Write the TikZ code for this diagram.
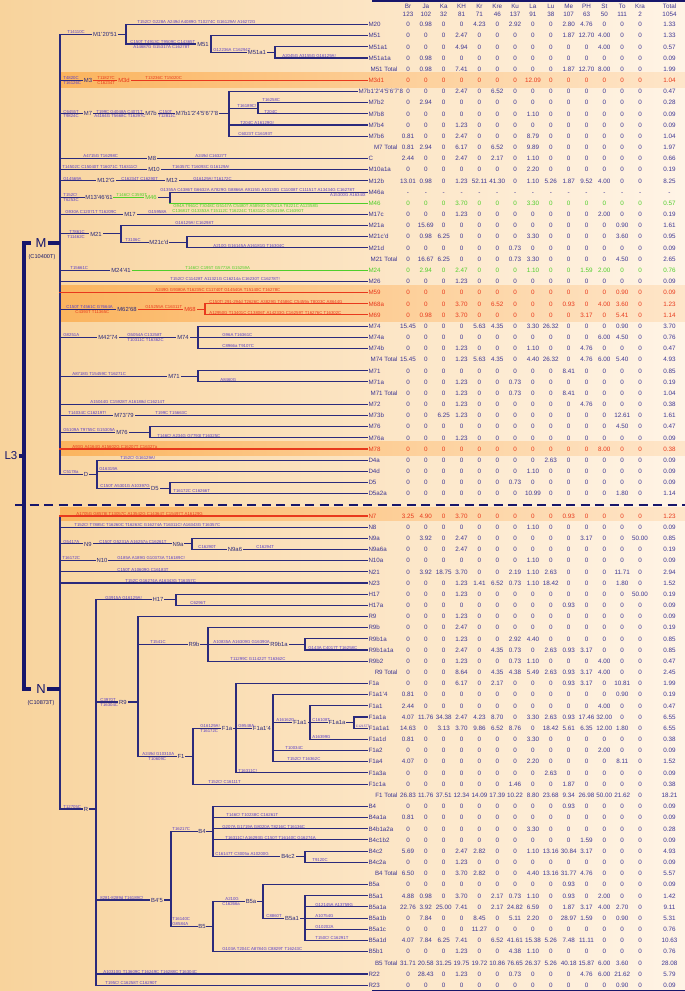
\documentclass[tikz,border=0pt]{standalone}
\usepackage{fontspec}
\setmainfont{Liberation Sans}
\definecolor{nv}{HTML}{2B2A7C}
\definecolor{dk}{HTML}{17166B}
\definecolor{mc}{HTML}{5A3FC8}
\definecolor{tc}{HTML}{3D3694}
\definecolor{rd}{HTML}{E8391D}
\definecolor{gr}{HTML}{4FCF2A}
\definecolor{bgL}{HTML}{F8D39C}
\definecolor{bgM}{HTML}{FDE3BC}
\definecolor{bgR}{HTML}{FFF4E6}
\definecolor{bdL}{HTML}{FBB45E}
\definecolor{bdR}{HTML}{FEE6CA}
\newcommand\R[1]{(24.5+(#1-1)*11.17)}
\newcommand\cx[1]{(408+(#1-1)*17.85+11.6*(#1>14))}
\newcounter{mk}
\tikzset{
 ln/.style={draw=nv,line width=1.1pt,line cap=rect},
 thk/.style={draw=dk,line width=3.2pt},
 mtx/.style={font=\fontsize{4.3}{4.3}\selectfont,inner sep=0.2pt},
 nlab/.style={font=\fontsize{5.9}{6}\selectfont,inner sep=1.2pt,text height=4.2pt,text depth=0pt},
 tlab/.style={font=\fontsize{6.2}{6.5}\selectfont,text=tc,inner sep=1.3pt,text height=4.5pt,text depth=0pt},
 tval/.style={font=\fontsize{6.3}{6.5}\selectfont,text=tc,inner sep=0pt,anchor=center,text height=4.5pt,text depth=0pt},
}
\newcommand\ma[4][mc]{\stepcounter{mk}\node[mtx,text=#1,anchor=south west] (mu\themk) at (#2,{#3-0.3}) {#4};}
\newcommand\mb[4][mc]{\stepcounter{mk}\node[mtx,text=#1,anchor=north west] (mu\themk) at (#2,{#3+0.7}) {#4};}
\newcommand\bl[5][nv]{\node[nlab,text=#1] (#2) at (#3,{#4}) {#5};}
\newcommand\leaf[3][nv]{\draw[ln,draw=#1] (#2,{\R{#3}}) -- (L#3.west);}
\newcommand\trow[5][tc]{%
 \node[tlab,text=#1,anchor=west] (L#2) at (#3,{\R{#2}}) {#4};
 \foreach \v [count=\i] in {#5} {\node[tval,text=#1] (V#2-\i) at ({\cx{\i}},{\R{#2}}) {\v};}}
\newcommand\ttot[3]{%
 \node[tlab,anchor=east] (L#1) at (399,{\R{#1}}) {#2};
 \foreach \v [count=\i] in {#3} {\node[tval] (V#1-\i) at ({\cx{\i}},{\R{#1}}) {\v};}}
\begin{document}
\begin{tikzpicture}[x=1pt,y=-1pt]
\shade[left color=bgL,middle color=bgM,right color=bgR] (0,0) rectangle (685,991);
\useasboundingbox (0,0) rectangle (685,991);
% node heights
\pgfmathsetmacro\yMfa{(\R{3}+\R{4})/2}
\pgfmathsetmacro\yMf{(\R{2}+\yMfa)/2}
\pgfmathsetmacro\yMo{(\R{1}+\yMf)/2}
\pgfmathsetmacro\ySeven{(\R{7}+\R{11})/2}
\pgfmathsetmacro\ySevs{(\R{8}+\R{9})/2}
\pgfmathsetmacro\yFS{(\R{16}+\R{17})/2}
\pgfmathsetmacro\yTwoOneC{(\R{20}+\R{21})/2}
\pgfmathsetmacro\yTwoOne{(\R{19}+\yTwoOneC)/2}
\pgfmathsetmacro\ySixEight{(\R{26}+\R{27})/2}
\pgfmathsetmacro\ySevOne{(\R{32}+\R{33})/2}
\pgfmathsetmacro\ySevSix{(\R{37}+\R{38})/2}
\pgfmathsetmacro\yDfive{(\R{42}+\R{43})/2}
\pgfmathsetmacro\yD{(\R{40}+\yDfive)/2}
\pgfmathsetmacro\yM{243}
\pgfmathsetmacro\yNnine{(\R{47}+\R{48})/2}
\pgfmathsetmacro\yH{(\R{52}+\R{53})/2}
\pgfmathsetmacro\yRnbo{(\R{56}+\R{57})/2}
\pgfmathsetmacro\yRnb{(\R{55}+\R{58})/2}
\pgfmathsetmacro\yFaa{(\R{63}+\R{64})/2}
\pgfmathsetmacro\yFao{(\R{62}+\R{65})/2}
\pgfmathsetmacro\yFaf{(\R{61}+\R{67})/2}
\pgfmathsetmacro\yFa{(\R{60}+\R{68})/2}
\pgfmathsetmacro\yFo{(\yFa+\R{69})/2}
\pgfmathsetmacro\yRn{702}
\pgfmathsetmacro\yBfc{(\R{75}+\R{76})/2}
\pgfmathsetmacro\yBf{(\R{71}+\yBfc)/2}
\pgfmathsetmacro\yBao{(\R{79}+\R{83})/2}
\pgfmathsetmacro\yBa{(\R{78}+\yBao)/2}
\pgfmathsetmacro\yBv{(\yBa+\R{84})/2}
\pgfmathsetmacro\yBfv{900}
\pgfmathsetmacro\yR{809}
\pgfmathsetmacro\yN{689}
\pgfmathsetmacro\yL{456}
% bands
\shade[left color=bdL,right color=bdR] (60,{\R{6}-7.5}) rectangle (685,{\R{6}+7.5});
\shade[left color=bdL,right color=bdR] (60,{\R{25}-7.5}) rectangle (685,{\R{27}+7});
\shade[left color=bdL,right color=bdR] (60,{\R{39}-7.5}) rectangle (685,{\R{39}+6.5});
\shade[left color=bdL,right color=bdR] (60,{\R{45}-8}) rectangle (685,{\R{45}+5});
% table borders and header
\draw[dk,line width=1.4pt] (372,0.8) -- (685,0.8);
\draw[dk,line width=1.4pt] (372,990.2) -- (685,990.2);
\foreach \h [count=\i] in {Br,Ja,Ka,KH,Kr,Kre,Ku,La,Lu,Me,PH,St,To,Kra,Total} {\node[tval] (H\i) at ({\cx{\i}},6) {\h};}
\foreach \h [count=\i] in {123,102,32,81,71,46,137,91,38,107,63,50,111,2,1054} {\node[tval] (N\i) at ({\cx{\i}},14.2) {\h};}
% table rows
\trow{1}{367}{M20}{0,0.98,0,0,4.23,0,2.92,0,0,2.80,4.76,0,0,0,1.33}
\trow{2}{367}{M51}{0,0,0,2.47,0,0,0,0,0,1.87,12.70,4.00,0,0,1.33}
\trow{3}{367}{M51a1}{0,0,0,4.94,0,0,0,0,0,0,0,4.00,0,0,0.57}
\trow{4}{367}{M51a1a}{0,0.98,0,0,0,0,0,0,0,0,0,0,0,0,0.09}
\ttot{5}{M51 Total}{0,0.98,0,7.41,0,0,0,0,0,1.87,12.70,8.00,0,0,1.99}
\trow[rd]{6}{367}{M3d1}{0,0,0,0,0,0,0,12.09,0,0,0,0,0,0,1.04}
\trow{7}{357}{M7b1'2'4'5'6'7'8}{0,0,0,2.47,0,6.52,0,0,0,0,0,0,0,0,0.47}
\trow{8}{367}{M7b2}{0,2.94,0,0,0,0,0,0,0,0,0,0,0,0,0.28}
\trow{9}{367}{M7b8}{0,0,0,0,0,0,0,1.10,0,0,0,0,0,0,0.09}
\trow{10}{367}{M7b4}{0,0,0,1.23,0,0,0,0,0,0,0,0,0,0,0.09}
\trow{11}{367}{M7b6}{0.81,0,0,2.47,0,0,0,8.79,0,0,0,0,0,0,1.04}
\ttot{12}{M7 Total}{0.81,2.94,0,6.17,0,6.52,0,9.89,0,0,0,0,0,0,1.97}
\trow{13}{367}{C}{2.44,0,0,2.47,0,2.17,0,1.10,0,0,0,0,0,0,0.66}
\trow{14}{367}{M10a1a}{0,0,0,0,0,0,0,2.20,0,0,0,0,0,0,0.19}
\trow{15}{367}{M12b}{13.01,0.98,0,1.23,52.11,41.30,0,1.10,5.26,1.87,9.52,4.00,0,0,8.25}
\trow{16}{367}{M46a}{-,-,-,-,-,-,-,-,-,-,-,-,-,-,-}
\trow[gr]{17}{367}{M46}{0,0,0,3.70,0,0,0,3.30,0,0,0,0,0,0,0.57}
\trow{18}{367}{M17c}{0,0,0,1.23,0,0,0,0,0,0,0,2.00,0,0,0.19}
\trow{19}{367}{M21a}{0,15.69,0,0,0,0,0,0,0,0,0,0,0.90,0,1.61}
\trow{20}{367}{M21c'd}{0,0.98,6.25,0,0,0,0,3.30,0,0,0,0,3.60,0,0.95}
\trow{21}{367}{M21d}{0,0,0,0,0,0,0.73,0,0,0,0,0,0,0,0.09}
\ttot{22}{M21 Total}{0,16.67,6.25,0,0,0,0.73,3.30,0,0,0,0,4.50,0,2.65}
\trow[gr]{23}{367}{M24}{0,2.94,0,2.47,0,0,0,1.10,0,0,1.59,2.00,0,0,0.76}
\trow{24}{367}{M26}{0,0,0,1.23,0,0,0,0,0,0,0,0,0,0,0.09}
\trow[rd]{25}{367}{M59}{0,0,0,0,0,0,0,0,0,0,0,0,0.90,0,0.09}
\trow[rd]{26}{367}{M68a}{0,0,0,3.70,0,6.52,0,0,0,0.93,0,4.00,3.60,0,1.23}
\trow[rd]{27}{367}{M69}{0,0.98,0,3.70,0,0,0,0,0,0,3.17,0,5.41,0,1.14}
\trow{28}{367}{M74}{15.45,0,0,0,5.63,4.35,0,3.30,26.32,0,0,0,0.90,0,3.70}
\trow{29}{367}{M74a}{0,0,0,0,0,0,0,0,0,0,0,6.00,4.50,0,0.76}
\trow{30}{367}{M74b}{0,0,0,1.23,0,0,0,1.10,0,0,4.76,0,0,0,0.47}
\ttot{31}{M74 Total}{15.45,0,0,1.23,5.63,4.35,0,4.40,26.32,0,4.76,6.00,5.40,0,4.93}
\trow{32}{367}{M71}{0,0,0,0,0,0,0,0,0,8.41,0,0,0,0,0.85}
\trow{33}{367}{M71a}{0,0,0,1.23,0,0,0.73,0,0,0,0,0,0,0,0.19}
\ttot{34}{M71 Total}{0,0,0,1.23,0,0,0.73,0,0,8.41,0,0,0,0,1.04}
\trow{35}{367}{M72}{0,0,0,1.23,0,0,0,0,0,0,4.76,0,0,0,0.38}
\trow{36}{367}{M73b}{0,0,6.25,1.23,0,0,0,0,0,0,0,0,12.61,0,1.61}
\trow{37}{367}{M76}{0,0,0,0,0,0,0,0,0,0,0,0,4.50,0,0.47}
\trow{38}{367}{M76a}{0,0,0,1.23,0,0,0,0,0,0,0,0,0,0,0.09}
\trow[rd]{39}{367}{M78}{0,0,0,0,0,0,0,0,0,0,0,8.00,0,0,0.38}
\trow{40}{367}{D4a}{0,0,0,0,0,0,0,0,2.63,0,0,0,0,0,0.09}
\trow{41}{367}{D4d}{0,0,0,0,0,0,0,1.10,0,0,0,0,0,0,0.09}
\trow{42}{367}{D5}{0,0,0,0,0,0,0.73,0,0,0,0,0,0,0,0.09}
\trow{43}{367}{D5a2a}{0,0,0,0,0,0,0,10.99,0,0,0,0,1.80,0,1.14}
\trow[rd]{45}{367}{N7}{3.25,4.90,0,3.70,0,0,0,0,0,0.93,0,0,0,0,1.23}
\trow{46}{367}{N8}{0,0,0,0,0,0,0,1.10,0,0,0,0,0,0,0.09}
\trow{47}{367}{N9a}{0,3.92,0,2.47,0,0,0,0,0,0,3.17,0,0,50.00,0.85}
\trow{48}{367}{N9a6a}{0,0,0,2.47,0,0,0,0,0,0,0,0,0,0,0.19}
\trow{49}{367}{N10a}{0,0,0,0,0,0,0,1.10,0,0,0,0,0,0,0.09}
\trow{50}{367}{N21}{0,3.92,18.75,3.70,0,0,2.19,1.10,2.63,0,0,0,11.71,0,2.94}
\trow{51}{367}{N23}{0,0,0,1.23,1.41,6.52,0.73,1.10,18.42,0,0,0,1.80,0,1.52}
\trow{52}{367}{H17}{0,0,0,1.23,0,0,0,0,0,0,0,0,0,50.00,0.19}
\trow{53}{367}{H17a}{0,0,0,0,0,0,0,0,0,0.93,0,0,0,0,0.09}
\trow{54}{367}{R9}{0,0,0,1.23,0,0,0,0,0,0,0,0,0,0,0.09}
\trow{55}{367}{R9b}{0,0,0,2.47,0,0,0,0,0,0,0,0,0,0,0.19}
\trow{56}{367}{R9b1a}{0,0,0,1.23,0,0,2.92,4.40,0,0,0,0,0,0,0.85}
\trow{57}{367}{R9b1a1a}{0,0,0,2.47,0,4.35,0.73,0,2.63,0.93,3.17,0,0,0,0.85}
\trow{58}{367}{R9b2}{0,0,0,1.23,0,0,0.73,1.10,0,0,0,4.00,0,0,0.47}
\ttot{59}{R9 Total}{0,0,0,8.64,0,4.35,4.38,5.49,2.63,0.93,3.17,4.00,0,0,2.45}
\trow{60}{367}{F1a}{0,0,0,6.17,0,2.17,0,0,0,0.93,3.17,0,10.81,0,1.99}
\trow{61}{367}{F1a1'4}{0.81,0,0,0,0,0,0,0,0,0,0,0,0.90,0,0.19}
\trow{62}{367}{F1a1}{2.44,0,0,0,0,0,0,0,0,0,0,4.00,0,0,0.47}
\trow{63}{367}{F1a1a}{4.07,11.76,34.38,2.47,4.23,8.70,0,3.30,2.63,0.93,17.46,32.00,0,0,6.55}
\trow{64}{367}{F1a1a1}{14.63,0,3.13,3.70,9.86,6.52,8.76,0,18.42,5.61,6.35,12.00,1.80,0,6.55}
\trow{65}{367}{F1a1d}{0.81,0,0,0,0,0,0,3.30,0,0,0,0,0,0,0.38}
\trow{66}{367}{F1a2}{0,0,0,0,0,0,0,0,0,0,0,2.00,0,0,0.09}
\trow{67}{367}{F1a4}{4.07,0,0,0,0,0,0,2.20,0,0,0,0,8.11,0,1.52}
\trow{68}{367}{F1a3a}{0,0,0,0,0,0,0,0,2.63,0,0,0,0,0,0.09}
\trow{69}{367}{F1c1a}{0,0,0,0,0,0,1.46,0,0,1.87,0,0,0,0,0.38}
\ttot{70}{F1 Total}{26.83,11.76,37.51,12.34,14.09,17.39,10.22,8.80,23.68,9.34,26.98,50.00,21.62,0,18.21}
\trow{71}{367}{B4}{0,0,0,0,0,0,0,0,0,0.93,0,0,0,0,0.09}
\trow{72}{367}{B4a1a}{0.81,0,0,0,0,0,0,0,0,0,0,0,0,0,0.09}
\trow{73}{367}{B4b1a2a}{0,0,0,0,0,0,0,3.30,0,0,0,0,0,0,0.28}
\trow{74}{367}{B4c1b2}{0,0,0,0,0,0,0,0,0,0,1.59,0,0,0,0.09}
\trow{75}{367}{B4c2}{5.69,0,0,2.47,2.82,0,0,1.10,13.16,30.84,3.17,0,0,0,4.93}
\trow{76}{367}{B4c2a}{0,0,0,1.23,0,0,0,0,0,0,0,0,0,0,0.09}
\ttot{77}{B4 Total}{6.50,0,0,3.70,2.82,0,0,4.40,13.16,31.77,4.76,0,0,0,5.57}
\trow{78}{367}{B5a}{0,0,0,0,0,0,0,0,0,0.93,0,0,0,0,0.09}
\trow{79}{367}{B5a1}{4.88,0.98,0,3.70,0,2.17,0.73,1.10,0,0.93,0,2.00,0,0,1.42}
\trow{80}{367}{B5a1a}{22.76,3.92,25.00,7.41,0,2.17,24.82,6.59,0,1.87,3.17,4.00,2.70,0,9.11}
\trow{81}{367}{B5a1b}{0,7.84,0,0,8.45,0,5.11,2.20,0,28.97,1.59,0,0.90,0,5.31}
\trow{82}{367}{B5a1c}{0,0,0,0,11.27,0,0,0,0,0,0,0,0,0,0.76}
\trow{83}{367}{B5a1d}{4.07,7.84,6.25,7.41,0,6.52,41.61,15.38,5.26,7.48,11.11,0,0,0,10.63}
\trow{84}{367}{B5b1}{0,0,0,1.23,0,0,4.38,1.10,0,0,0,0,0,0,0.76}
\ttot{85}{B5 Total}{31.71,20.58,31.25,19.75,19.72,10.86,76.65,26.37,5.26,40.18,15.87,6.00,3.60,0,28.08}
\trow{86}{367}{R22}{0,28.43,0,1.23,0,0,0.73,0,0,0,4.76,6.00,21.62,0,5.79}
\trow{87}{367}{R23}{0,0,0,0,0,0,0,0,0,0,0,0,0.90,0,0.09}
% ================= M tree
\draw[ln] (60,\yMo) -- (60,\yD);
\bl{Mo}{105}{\yMo}{M1'20'51}
\draw[ln] (60,\yMo) -- (Mo.west); \draw[ln] (Mo.east) -- (126,\yMo);
\ma{67}{\yMo}{T14110C}
\draw[ln] (126,{\R{1}}) -- (126,\yMf);
\leaf{126}{1} \ma{137}{\R{1}}{T152C! G228A A249d A4089G T10274C G16129A! A16272G}
\bl{Mf}{203}{\yMf}{M51}
\draw[ln] (126,\yMf) -- (Mf.west); \draw[ln] (Mf.east) -- (211,\yMf);
\ma{130}{\yMf}{C150T T4913C T9509C C14365T} \mb{133}{\yMf}{A14687G G15317A C16278T}
\draw[ln] (211,{\R{2}}) -- (211,\yMfa);
\leaf{211}{2}
\bl{Mfa}{257}{\yMfa}{M51a1}
\draw[ln] (211,\yMfa) -- (Mfa.west); \draw[ln] (Mfa.east) -- (275,\yMfa);
\ma{213}{\yMfa}{G12236A C16294T}
\draw[ln] (275,{\R{3}}) -- (275,{\R{4}});
\leaf{275}{3} \leaf{275}{4} \ma{282}{\R{4}}{A2045G A3155G G16129A!}
% M3
\bl{Mt}{88}{\R{6}}{M3}
\draw[ln] (60,{\R{6}}) -- (Mt.west);
\ma{63}{\R{6}}{T4820C} \mb{63}{\R{6}}{T16126C}
\bl[rd]{Mtd}{124}{\R{6}}{M3d}
\draw[ln,draw=rd] (Mt.east) -- (Mtd.west); \draw[ln,draw=rd] (Mtd.east) -- (L6.west);
\ma[rd]{97}{\R{6}}{T11827C} \mb[rd]{97}{\R{6}}{C16234T}
\ma[rd]{145}{\R{6}}{T13236C T15020C}
% M7
\bl{Ms}{88}{\ySeven}{M7}
\draw[ln] (60,\ySeven) -- (Ms.west);
\ma{63}{\ySeven}{C6455T} \mb{63}{\ySeven}{T9824C}
\bl{Msb}{151}{\ySeven}{M7b}
\draw[ln] (Ms.east) -- (Msb.west);
\ma{96}{\ySeven}{T199C G4048A C4071T} \mb{94}{\ySeven}{A4164G T5668C T16297C}
\bl{Msbo}{197}{\ySeven}{M7b1'2'4'5'6'7'8}
\draw[ln] (Msb.east) -- (Msbo.west); \draw[ln] (Msbo.east) -- (229,\ySeven);
\ma{159}{\ySeven}{C150T} \mb{158}{\ySeven}{T12811C}
\draw[ln] (229,{\R{7}}) -- (229,{\R{11}});
\leaf{229}{7}
\draw[ln] (229,\ySevs) -- (258,\ySevs); \ma{237}{\ySevs}{T16189C!}
\draw[ln] (258,{\R{8}}) -- (258,{\R{9}});
\leaf{258}{8} \ma{262}{\R{8}}{T16258C}
\leaf{258}{9} \ma{264}{\R{9}}{T204C}
\leaf{229}{10} \ma{240}{\R{10}}{T204C A16129G!}
\leaf{229}{11} \ma{238}{\R{11}}{C6023T C16193T}
% M8
\bl{Me}{152}{\R{13}}{M8}
\draw[ln] (60,{\R{13}}) -- (Me.west); \draw[ln] (Me.east) -- (L13.west);
\ma{83}{\R{13}}{A4715G T16298C} \ma{195}{\R{13}}{A249d C16327T}
% M10
\bl{Mte}{154}{\R{14}}{M10}
\draw[ln] (60,{\R{14}}) -- (Mte.west); \draw[ln] (Mte.east) -- (L14.west);
\ma{62}{\R{14}}{T14502C C15040T T16071C T16311C!} \ma{172}{\R{14}}{T16357C T16093C G16129A!}
% M12'G
\bl{Mtw}{106}{\R{15}}{M12'G}
\draw[ln] (60,{\R{15}}) -- (Mtw.west);
\ma{63}{\R{15}}{G14569A}
\bl{Mtwb}{172}{\R{15}}{M12}
\draw[ln] (Mtw.east) -- (Mtwb.west); \draw[ln] (Mtwb.east) -- (L15.west);
\ma{121}{\R{15}}{C16234T C16290T} \ma{193}{\R{15}}{G16129A! T16172C}
% M13'46'61
\bl{Mth}{99}{\yFS}{M13'46'61}
\draw[ln] (60,\yFS) -- (Mth.west);
\ma{63}{\yFS}{T152C!} \mb{63}{\yFS}{T6253C}
\bl[gr]{Mfs}{151}{\yFS}{M46}
\draw[ln,draw=gr] (Mth.east) -- (Mfs.west); \ma[gr]{116}{\yFS}{T146C! C3593T}
\draw[ln] (Mfs.east) -- (170,\yFS);
\draw[ln] (170,{\R{16}}) -- (170,{\R{17}});
\leaf{170}{16} \leaf[gr]{170}{17}
\ma{160}{\R{16}}{G1355A C4386T G6632A A7829G G8866A A9115G A10130G C11008T C11151T A13434G C16278T}
\stepcounter{mk}\node[mtx,text=mc,anchor=north east] (mu\themk) at (366,{\R{16}+0.7}) {A15300G A16340t};
\mb[gr]{173}{\R{17}}{G94A T961C T3048C G5147A C5480T A5894G G7521A T8221C A12358G}
\mb[gr]{172}{\R{17}+5.2}{C13681T G13353A T15112C T16224C T16311C G16319A C16390T}
% M17
\bl{Mse}{130}{\R{18}}{M17}
\draw[ln] (60,{\R{18}}) -- (Mse.west); \draw[ln] (Mse.east) -- (L18.west);
\ma{65}{\R{18}}{G930A C12071T T16209C} \ma{148}{\R{18}}{G15958A}
% M21
\bl{Mto}{96}{\yTwoOne}{M21}
\draw[ln] (60,\yTwoOne) -- (Mto.west); \draw[ln] (Mto.east) -- (121,\yTwoOne);
\ma{69}{\yTwoOne}{T7861C} \mb{67}{\yTwoOne}{T11462C}
\draw[ln] (121,{\R{19}}) -- (121,\yTwoOneC);
\leaf{121}{19} \ma{175}{\R{19}}{G16129A! C16298T}
\bl{Mtoc}{159}{\yTwoOneC}{M21c'd}
\draw[ln] (121,\yTwoOneC) -- (Mtoc.west); \draw[ln] (Mtoc.east) -- (187,\yTwoOneC);
\ma{125}{\yTwoOneC}{T3106C}
\draw[ln] (187,{\R{20}}) -- (187,{\R{21}});
\leaf{187}{20} \leaf{187}{21} \ma{213}{\R{21}}{A210G G16145A A16181G T16304C}
% M24'41
\bl{Mtf}{121}{\R{23}}{M24'41}
\draw[ln] (60,{\R{23}}) -- (Mtf.west); \draw[ln,draw=gr] (Mtf.east) -- (L23.west);
\ma{70}{\R{23}}{T15661C} \ma[gr]{185}{\R{23}}{T146C! C195T G5773A G15259A}
% M26
\leaf{60}{24} \ma{170}{\R{24}}{T152C! C11428T A11321G C16214a C16230T C16278T!}
% M59
\leaf[rd]{60}{25} \ma[rd]{155}{\R{25}}{A249G G9380A T16235C C11740T G14540A T15140C T16278C}
% M62'68
\bl{Mss}{127}{\ySixEight}{M62'68}
\draw[ln] (60,\ySixEight) -- (Mss.west);
\ma{66}{\ySixEight}{C150T T4561C G7664A} \mb[rd]{75}{\ySixEight}{C4393T T11365C}
\bl[rd]{Msx}{190}{\ySixEight}{M68}
\draw[ln,draw=rd] (Mss.east) -- (Msx.west); \draw[ln,draw=rd] (Msx.east) -- (205,\ySixEight);
\ma[rd]{145}{\ySixEight}{G15255A C16311T}
\draw[ln,draw=rd] (205,{\R{26}}) -- (205,{\R{27}});
\leaf[rd]{205}{26} \leaf[rd]{205}{27}
\ma[rd]{209}{\R{26}}{C150T! 291-294d T2626C A3829G T4586C C5459a T8003C A8644G}
\ma[rd]{209}{\R{27}}{A12950G T13401C C13806T A14233G C16259T T16276C T16302C}
% M42'74
\bl{Mft}{108}{\R{29}}{M42'74}
\draw[ln] (60,{\R{29}}) -- (Mft.west);
\ma{63}{\R{29}}{G8251A}
\bl{Msf}{183}{\R{29}}{M74}
\draw[ln] (Mft.east) -- (Msf.west); \draw[ln] (Msf.east) -- (198,{\R{29}});
\ma{127}{\R{29}}{G5054A C13258T} \mb{127}{\R{29}}{T10311C T16362C}
\draw[ln] (198,{\R{28}}) -- (198,{\R{30}});
\leaf{198}{28} \leaf{198}{29} \leaf{198}{30}
\ma{222}{\R{29}}{G96A T16361C} \ma{222}{\R{30}}{C8966a T9107C}
% M71
\bl{Mso}{174}{\ySevOne}{M71}
\draw[ln] (60,\ySevOne) -- (Mso.west); \draw[ln] (Mso.east) -- (198,\ySevOne);
\ma{72}{\ySevOne}{A8718G T15459C T16271C}
\draw[ln] (198,{\R{32}}) -- (198,{\R{33}});
\leaf{198}{32} \leaf{198}{33} \ma{220}{\R{33}}{A8460G}
% M72
\leaf{60}{35} \ma{90}{\R{35}}{A15044G C15928T A16188d C16214T}
% M73'79
\bl{Mst}{124}{\R{36}}{M73'79}
\draw[ln] (60,{\R{36}}) -- (Mst.west); \draw[ln] (Mst.east) -- (L36.west);
\ma{68}{\R{36}}{T14034C C16219T!} \ma{155}{\R{36}}{T199C T15663C}
% M76
\bl{Mssx}{122}{\ySevSix}{M76}
\draw[ln] (60,\ySevSix) -- (Mssx.west); \draw[ln] (Mssx.east) -- (150,\ySevSix);
\ma{63}{\ySevSix}{G5109A T9755C G15305A}
\draw[ln] (150,{\R{37}}) -- (150,{\R{38}});
\leaf{150}{37} \leaf{150}{38} \ma{157}{\R{38}}{T146C! A234G G7793t T16325C}
% M78
\leaf[rd]{60}{39} \ma[rd]{72}{\R{39}}{A93G A4164G A15602G C16207T C16327a}
% D
\bl{Dd}{86}{\yD}{D}
\draw[ln] (60,\yD) -- (Dd.west); \draw[ln] (Dd.east) -- (97,\yD);
\ma{63}{\yD}{C5178a}
\draw[ln] (97,{\R{40}}) -- (97,\yDfive);
\leaf{97}{40} \ma{120}{\R{40}}{T152C! G16129A!}
\leaf{97}{41} \ma{99}{\R{41}}{G16319A}
\bl{Dfv}{155}{\yDfive}{D5}
\draw[ln] (97,\yDfive) -- (Dfv.west); \draw[ln] (Dfv.east) -- (170,\yDfive);
\ma{100}{\yDfive}{C150T A5301G A10397G}
\draw[ln] (170,{\R{42}}) -- (170,{\R{43}});
\leaf{170}{42} \leaf{170}{43} \ma{173}{\R{43}}{T16172C C16266T}
% dashed separator
\coordinate (dA) at (15,{\R{44}}); \coordinate (dB) at (685,{\R{44}});
\draw[dk,line width=2.2pt,dash pattern=on 9pt off 5.5pt] (dA) -- (dB);
% ================= N tree
\draw[ln] (60,{\R{45}}) -- (60,\yR);
\leaf[rd]{60}{45} \ma[rd]{76}{\R{45}}{A1705G G8578t T13057C A13542G C14364T C15497T A16129G}
\leaf{60}{46} \ma{74}{\R{46}}{T152C! T7885C T16260C T16263C G16274A T16311C! A16343G T16357C}
\bl{Nn}{88}{\yNnine}{N9}
\draw[ln] (60,\yNnine) -- (Nn.west); \ma{63}{\yNnine}{G5417A}
\bl{Nna}{178}{\yNnine}{N9a}
\draw[ln] (Nn.east) -- (Nna.west); \draw[ln] (Nna.east) -- (192,\yNnine);
\ma{99}{\yNnine}{C150T G5231A A16257a C16261T}
\draw[ln] (192,{\R{47}}) -- (192,{\R{48}});
\leaf{192}{47}
\bl{Nnas}{235}{\R{48}}{N9a6}
\draw[ln] (192,{\R{48}}) -- (Nnas.west); \draw[ln] (Nnas.east) -- (L48.west);
\ma{198}{\R{48}}{C16290T} \ma{256}{\R{48}}{C16294T}
\bl{Nte}{102}{\R{49}}{N10}
\draw[ln] (60,{\R{49}}) -- (Nte.west); \draw[ln] (Nte.east) -- (L49.west);
\ma{62}{\R{49}}{T16172C} \ma{117}{\R{49}}{G185A A189G G10373A T16189C!}
\leaf{60}{50} \ma{117}{\R{50}}{C150T A10609G C16183T}
\leaf{60}{51} \ma{125}{\R{51}}{T152C G16274A A16343G T16357C}
% R
\bl{Rr}{86}{\yR}{R}
\draw[ln] (60,\yR) -- (Rr.west); \draw[ln] (Rr.east) -- (96,\yR);
\ma{63}{\yR}{T12705C}
\draw[ln] (96,\yH) -- (96,{\R{87}});
\bl{Hs}{158}{\yH}{H17}
\draw[ln] (96,\yH) -- (Hs.west); \draw[ln] (Hs.east) -- (176,\yH);
\ma{105}{\yH}{G3915A G16129A!}
\draw[ln] (176,{\R{52}}) -- (176,{\R{53}});
\leaf{176}{52} \leaf{176}{53} \ma{190}{\R{53}}{C6296T}
% R9
\bl{Rn}{123}{\yRn}{R9}
\draw[ln] (96,\yRn) -- (Rn.west); \draw[ln] (Rn.east) -- (138,\yRn);
\ma{100}{\yRn}{C3970T} \mb{100}{\yRn}{T16304C}
\draw[ln] (138,{\R{54}}) -- (138,\yFo);
\leaf{138}{54}
\bl{Rnb}{194}{\yRnb}{R9b}
\draw[ln] (138,\yRnb) -- (Rnb.west); \draw[ln] (Rnb.east) -- (208,\yRnb);
\ma{150}{\yRnb}{T1541C}
\draw[ln] (208,{\R{55}}) -- (208,{\R{58}});
\leaf{208}{55}
\bl{Rnba}{279}{\yRnbo}{R9b1a}
\draw[ln] (208,\yRnbo) -- (Rnba.west); \draw[ln] (Rnba.east) -- (305,\yRnbo);
\ma{213}{\yRnbo}{A10835A A16309G G16390A}
\draw[ln] (305,{\R{56}}) -- (305,{\R{57}});
\leaf{305}{56} \leaf{305}{57} \ma{308}{\R{57}}{G143A C4017T T16258C}
\leaf{208}{58} \ma{230}{\R{58}}{T11299C G11422T T16362C}
% F1
\bl{Fo}{181}{\yFo}{F1}
\draw[ln] (138,\yFo) -- (Fo.west); \draw[ln] (Fo.east) -- (193,\yFo);
\ma{142}{\yFo}{A249d G10310A} \mb{148}{\yFo}{T10609C}
\draw[ln] (193,\yFa) -- (193,{\R{69}});
\bl{Fa}{227}{\yFa}{F1a}
\draw[ln] (193,\yFa) -- (Fa.west); \draw[ln] (Fa.east) -- (236,\yFa);
\ma{200}{\yFa}{G16129A!} \mb{200}{\yFa}{T16172C}
\draw[ln] (236,{\R{60}}) -- (236,{\R{68}});
\leaf{236}{60}
\bl{Faf}{262}{\yFaf}{F1a1'4}
\draw[ln] (236,\yFaf) -- (Faf.west); \draw[ln] (Faf.east) -- (273,\yFaf);
\ma{238}{\yFaf}{G9548A}
\draw[ln] (273,{\R{61}}) -- (273,{\R{67}});
\leaf{273}{61}
\bl{Fao}{300}{\yFao}{F1a1}
\draw[ln] (273,\yFao) -- (Fao.west); \draw[ln] (Fao.east) -- (310,\yFao);
\ma{276}{\yFao}{A16162G}
\draw[ln] (310,{\R{62}}) -- (310,{\R{65}});
\leaf{310}{62}
\bl{Faa}{337}{\yFaa}{F1a1a}
\draw[ln] (310,\yFaa) -- (Faa.west); \draw[ln] (Faa.east) -- (354,\yFaa);
\ma{312}{\yFaa}{C16108T}
\draw[ln] (354,{\R{63}}) -- (354,{\R{64}});
\leaf{354}{63} \leaf{354}{64}
\stepcounter{mk}\node[font=\fontsize{3.3}{3.3}\selectfont,text=mc,inner sep=0.2pt,anchor=south west] (mu\themk) at (355.5,{\R{64}-0.4}) {C12157T};
\leaf{310}{65} \ma{312}{\R{65}}{A16399G}
\leaf{273}{66} \ma{285}{\R{66}}{T10034C}
\leaf{273}{67} \ma{287}{\R{67}}{T152C! T16362C}
\leaf{236}{68} \ma{238}{\R{68}}{T16311C!}
\leaf{193}{69} \ma{208}{\R{69}}{T152C! C16111T}
% B4'5
\bl{Bfv}{157}{\yBfv}{B4'5}
\draw[ln] (96,\yBfv) -- (Bfv.west); \draw[ln] (Bfv.east) -- (171,\yBfv);
\ma{100}{\yBfv}{8281-8289d T16189C!}
\draw[ln] (171,\yBf) -- (171,\yBv);
\bl{Bf}{202}{\yBf}{B4}
\draw[ln] (171,\yBf) -- (Bf.west); \draw[ln] (Bf.east) -- (213,\yBf);
\ma{172}{\yBf}{T16217C}
\draw[ln] (213,{\R{71}}) -- (213,\yBfc);
\leaf{213}{71}
\leaf{213}{72} \ma{226}{\R{72}}{T146C! T10238C C16261T}
\leaf{213}{73} \ma{222}{\R{73}}{G207A G1719A G8020A T8216C T16136C}
\leaf{213}{74} \ma{225}{\R{74}}{T16311C! A16293G C150T T16140C G16274A}
\bl{Bfc}{288}{\yBfc}{B4c2}
\draw[ln] (213,\yBfc) -- (Bfc.west); \draw[ln] (Bfc.east) -- (305,\yBfc);
\ma{215}{\yBfc}{C16147T C3005a A10200G}
\draw[ln] (305,{\R{75}}) -- (305,{\R{76}});
\leaf{305}{75} \leaf{305}{76} \ma{312}{\R{76}}{T9120C}
\bl{Bv}{202}{\yBv}{B5}
\draw[ln] (171,\yBv) -- (Bv.west); \draw[ln] (Bv.east) -- (213,\yBv);
\ma{172}{\yBv-5}{T16140C} \ma{172}{\yBv}{G8584A}
\draw[ln] (213,\yBa) -- (213,{\R{84}});
\bl{Ba}{251}{\yBa}{B5a}
\draw[ln] (213,\yBa) -- (Ba.west); \draw[ln] (Ba.east) -- (263,\yBa);
\ma{225}{\yBa}{A210G} \mb{222}{\yBa}{C16266a}
\draw[ln] (263,{\R{78}}) -- (263,\yBao);
\leaf{263}{78}
\bl{Bao}{292}{\yBao}{B5a1}
\draw[ln] (263,\yBao) -- (Bao.west); \draw[ln] (Bao.east) -- (305,\yBao);
\ma{266}{\yBao}{C8860T}
\draw[ln] (305,{\R{79}}) -- (305,{\R{83}});
\leaf{305}{79} \leaf{305}{80} \leaf{305}{81} \leaf{305}{82} \leaf{305}{83}
\ma{315}{\R{80}}{G12145A A13759G}
\ma{315}{\R{81}}{A10754G}
\ma{315}{\R{82}}{G10202A}
\ma{315}{\R{83}}{T150C! C16291T}
\leaf{213}{84} \ma{222}{\R{84}}{G103A T204C A8784G C8829T T16243C}
\leaf{96}{86} \ma{103}{\R{86}}{A10310G T13609C T16249C T16288C T16304C}
\leaf{96}{87} \ma{105}{\R{87}}{T195C! C16258T C16290T}
% ================= M / N / L3 bracket
\draw[thk] (31,\yM) -- (24,\yM) -- (24,\yN) -- (31,\yN);
\node[text=dk,font=\fontsize{13}{13}\selectfont,inner sep=1pt] (Mlab) at (41,\yM) {M};
\draw[thk] (Mlab.east) -- (60,\yM);
\node[text=dk,font=\fontsize{5.6}{6}\selectfont] (Mmut) at (42,{\yM+14}) {(C10400T)};
\node[text=dk,font=\fontsize{13}{13}\selectfont,inner sep=1pt] (Nlab) at (41,\yN) {N};
\draw[thk] (Nlab.east) -- (60,\yN);
\node[text=dk,font=\fontsize{5.6}{6}\selectfont] (Nmut) at (41,{\yN+14}) {(C10873T)};
\node[text=dk,font=\fontsize{11.5}{12}\selectfont,inner sep=1pt] (L3) at (11,\yL) {L3};
\draw[thk] (L3.east) -- (24,\yL);
\end{tikzpicture}
\end{document}
